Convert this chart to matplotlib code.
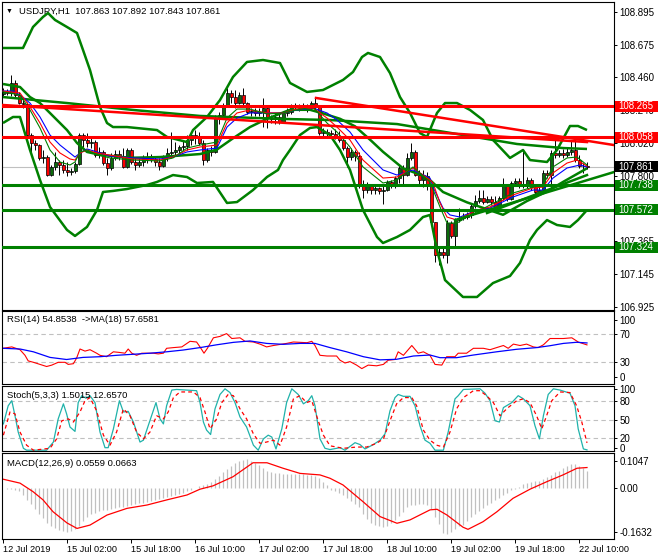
import matplotlib
matplotlib.use("Agg")
import matplotlib.pyplot as plt
import matplotlib.transforms as mtransforms
from matplotlib.patches import Rectangle

plt.rcParams['font.family'] = ['Liberation Sans', 'DejaVu Sans']

# ---------------- texts ----------------
chart_title = "USDJPY,H1  107.863 107.892 107.843 107.861"
rsi_title = "RSI(14) 54.8538  ->MA(18) 57.6581"
stoch_title = "Stoch(5,3,3) 1.5015 12.6570"
macd_title = "MACD(12,26,9) 0.0559 0.0663"

# ---------------- price data (H1 bars) ----------------
first_open = 108.345
closes = [108.359, 108.352, 108.419, 108.339, 108.285, 108.279, 108.072, 108.019, 108.005, 107.919,
          107.925, 107.805, 107.859, 107.892, 107.872, 107.839, 107.825, 107.832, 107.879, 108.072,
          108.039, 108.019, 108.025, 107.939, 107.959, 107.885, 107.852, 107.919, 107.945, 107.932,
          107.859, 107.972, 107.892, 107.872, 107.892, 107.919, 107.925, 107.912, 107.892, 107.865,
          107.925, 107.952, 107.959, 107.972, 107.992, 107.999, 108.039, 108.072, 108.059, 108.019,
          107.905, 107.972, 107.959, 108.185, 108.205, 108.272, 108.352, 108.325, 108.285, 108.339,
          108.285, 108.225, 108.232, 108.219, 108.225, 108.252, 108.185, 108.179, 108.192, 108.159,
          108.219, 108.225, 108.259, 108.265, 108.252, 108.259, 108.252, 108.285, 108.265, 108.085,
          108.092, 108.085, 108.079, 108.065, 108.039, 107.985, 107.925, 107.959, 107.932, 107.732,
          107.705, 107.739, 107.705, 107.719, 107.699, 107.705, 107.759, 107.739, 107.785, 107.852,
          107.805, 107.919, 107.959, 107.805, 107.772, 107.799, 107.732, 107.492, 107.272, 107.292,
          107.272, 107.485, 107.399, 107.505, 107.519, 107.525, 107.539, 107.599, 107.632, 107.652,
          107.625, 107.645, 107.625, 107.592, 107.652, 107.732, 107.645, 107.752, 107.765, 107.739,
          107.732, 107.772, 107.725, 107.692, 107.705, 107.819, 107.805, 107.952, 107.939, 107.952,
          107.939, 107.959, 107.972, 107.905, 107.865, 107.863, 107.861]
highs = [108.385, 108.379, 108.472, 108.439, 108.359, 108.305, 108.292, 108.085, 108.039, 108.012,
         107.972, 107.939, 107.872, 107.959, 107.905, 107.905, 107.892, 107.852, 107.892, 108.085,
         108.085, 108.085, 108.059, 108.039, 107.992, 107.972, 107.919, 107.952, 107.972, 107.972,
         107.985, 107.985, 107.985, 107.925, 107.919, 107.939, 107.959, 107.945, 107.932, 107.919,
         107.939, 107.985, 108.092, 108.025, 108.005, 108.039, 108.072, 108.085, 108.105, 108.092,
         108.039, 107.985, 107.999, 108.205, 108.225, 108.285, 108.385, 108.372, 108.372, 108.359,
         108.385, 108.292, 108.252, 108.252, 108.252, 108.319, 108.259, 108.205, 108.219, 108.212,
         108.232, 108.252, 108.279, 108.285, 108.279, 108.285, 108.279, 108.299, 108.319, 108.272,
         108.119, 108.112, 108.105, 108.112, 108.099, 108.065, 107.999, 107.985, 107.972, 107.959,
         107.772, 107.759, 107.745, 107.739, 107.725, 107.739, 107.772, 107.772, 107.799, 107.872,
         107.872, 107.952, 108.019, 107.972, 107.839, 107.839, 107.825, 107.739, 107.492, 107.319,
         107.319, 107.505, 107.499, 107.519, 107.585, 107.552, 107.559, 107.612, 107.672, 107.705,
         107.705, 107.665, 107.665, 107.665, 107.665, 107.785, 107.739, 107.765, 107.785, 107.785,
         107.972, 107.792, 107.785, 107.739, 107.732, 107.839, 107.839, 107.972, 108.072, 107.972,
         107.979, 107.985, 108.039, 108.052, 107.939, 107.885, 107.892]
lows = [108.332, 108.339, 108.332, 108.325, 108.279, 108.252, 108.059, 107.952, 107.972, 107.905,
        107.885, 107.799, 107.799, 107.839, 107.805, 107.819, 107.799, 107.805, 107.819, 107.872,
        107.992, 107.992, 107.985, 107.925, 107.919, 107.872, 107.805, 107.839, 107.905, 107.905,
        107.852, 107.852, 107.879, 107.839, 107.859, 107.865, 107.885, 107.892, 107.865, 107.839,
        107.859, 107.899, 107.919, 107.939, 107.939, 107.972, 107.972, 108.005, 108.012, 108.005,
        107.872, 107.892, 107.932, 107.952, 108.145, 108.192, 108.265, 108.285, 108.252, 108.279,
        108.272, 108.212, 108.199, 108.199, 108.199, 108.125, 108.119, 108.152, 108.145, 108.145,
        108.152, 108.199, 108.212, 108.239, 108.232, 108.239, 108.225, 108.239, 108.239, 108.072,
        108.065, 108.059, 108.059, 108.045, 108.025, 107.972, 107.859, 107.905, 107.899, 107.719,
        107.652, 107.685, 107.679, 107.679, 107.679, 107.612, 107.699, 107.719, 107.719, 107.752,
        107.739, 107.799, 107.905, 107.799, 107.739, 107.725, 107.705, 107.479, 107.225, 107.205,
        107.252, 107.219, 107.385, 107.325, 107.492, 107.505, 107.512, 107.519, 107.585, 107.619,
        107.612, 107.619, 107.605, 107.579, 107.579, 107.639, 107.632, 107.639, 107.732, 107.719,
        107.719, 107.719, 107.705, 107.679, 107.672, 107.705, 107.785, 107.719, 107.919, 107.925,
        107.919, 107.925, 107.939, 107.892, 107.852, 107.819, 107.843]

time_tick_bars = [0, 16, 32, 48, 64, 80, 96, 112, 128, 144]
time_tick_labels = ["12 Jul 2019", "15 Jul 02:00", "15 Jul 18:00", "16 Jul 10:00", "17 Jul 02:00",
                    "17 Jul 18:00", "18 Jul 10:00", "19 Jul 02:00", "19 Jul 18:00", "22 Jul 10:00"]
# 107.580 is entirely covered by the 107.572 level label in the reference, so it is not listed
price_ticks = [108.895, 108.675, 108.460, 108.240, 108.020, 107.800, 107.365, 107.145, 106.925]

# ---------------- drawn objects ----------------
resistance_levels = [108.265, 108.058]
support_levels = [107.738, 107.572, 107.324]
last_price = 107.861
red_trend1_bars = [0, 146]
red_trend1_prices = [108.272, 108.025]
red_trend2_bars = [78.25, 152.75]
red_trend2_prices = [108.319, 108.005]
green_trend1_bars = [113, 152.75]
green_trend1_prices = [107.505, 107.825]
green_trend2_bars = [121, 146]
green_trend2_prices = [107.552, 107.805]

# ---------------- indicators on price (vertices: bar index, price) ----------------
bb_up_bars = [0, 5, 7.5, 10, 11.25, 13, 16, 18.5, 20, 21.75, 24.25, 26, 27.5, 31, 38.5, 41, 46, 47.5, 51, 54.25,
              57.5, 61, 65, 69.25, 71.75, 76, 80, 85, 87.5, 89.75, 91.25, 94.25, 96.75, 99.25, 101.75, 104.25,
              106, 108.5, 110.5, 113.5, 116.75, 120, 122.5, 126.75, 130, 131.75, 136, 138.5, 141.75, 143.75, 146]
bb_up_vals = [108.652, 108.652, 108.792, 108.859, 108.885, 108.839, 108.792, 108.752, 108.639, 108.505,
              108.259, 108.152, 108.125, 108.125, 108.105, 108.059, 108.025, 108.105, 108.192, 108.305,
              108.459, 108.559, 108.572, 108.552, 108.419, 108.359, 108.372, 108.439, 108.492, 108.592,
              108.619, 108.592, 108.485, 108.325, 108.219, 108.085, 108.059, 108.219, 108.285, 108.285,
              108.239, 108.172, 108.039, 107.919, 107.972, 107.905, 107.892, 107.972, 108.132, 108.132, 108.105]
bb_mid_bars = [0, 4.25, 6.75, 9.25, 16, 18.5, 21, 24.25, 31.75, 39.25, 49.25, 53.5, 57.5, 61.75, 66, 71.75,
               76.75, 80, 84.25, 88, 92, 95, 100, 106, 110, 116, 125, 131, 136, 140, 146]
bb_mid_vals = [108.412, 108.392, 108.325, 108.285, 108.105, 108.019, 107.959, 107.94, 107.92, 107.925,
               107.945, 107.975, 108.05, 108.125, 108.18, 108.24, 108.24, 108.216, 108.18, 108.13, 108.035,
               107.96, 107.85, 107.79, 107.692, 107.623, 107.54, 107.632, 107.695, 107.759, 107.85]
bb_low_bars = [0, 2.5, 4.25, 6.75, 9.25, 11.75, 16, 18, 21, 23.5, 25, 27.5, 31, 36, 38.5, 42.5, 46, 48.5, 52.5,
               56, 58.5, 62.5, 66, 68.75, 70, 71.75, 74.25, 76.75, 78.5, 81.75, 84.25, 86.75, 90, 93.5, 95,
               98.5, 101.75, 105, 106.75, 108.5, 110.5, 115, 118.5, 122.5, 126.75, 129.25, 131.75, 133.5, 136,
               138.5, 141.75, 143.75, 146]
bb_low_vals = [108.152, 108.192, 108.192, 107.972, 107.772, 107.592, 107.439, 107.399, 107.459, 107.572,
               107.692, 107.699, 107.712, 107.739, 107.759, 107.805, 107.792, 107.752, 107.759, 107.619,
               107.625, 107.705, 107.792, 107.839, 107.905, 107.972, 108.072, 108.119, 108.125, 108.072,
               107.972, 107.839, 107.572, 107.392, 107.352, 107.392, 107.439, 107.525, 107.539, 107.305,
               107.105, 106.992, 106.992, 107.085, 107.132, 107.219, 107.372, 107.439, 107.505, 107.472,
               107.459, 107.505, 107.572]
long_ma_bars = [0, 16, 32.5, 49.25, 70, 81.75, 98.5, 115, 128.5, 140, 146]
long_ma_vals = [108.325, 108.285, 108.239, 108.199, 108.179, 108.172, 108.145, 108.072, 108.012, 107.985, 107.979]

ema_slow_bars = [0, 2.5, 4.25, 6.75, 9.25, 11.75, 14.25, 16.75, 18, 19.25, 21, 23.5, 26.75, 32.5, 39.25, 42.5,
                 46, 49.25, 53.5, 56, 58.5, 61.75, 66, 70, 73.5, 77.5, 81, 83.5, 86.75, 90, 95, 98.5, 102.5,
                 106.75, 107.5, 110, 111.75, 114.25, 118.5, 121.75, 127.5, 132.5, 135, 137.5, 141, 144.25, 146]
ema_slow_vals = [108.365, 108.365, 108.339, 108.285, 108.192, 108.072, 108.005, 107.952, 107.925, 107.952,
                 107.979, 107.959, 107.932, 107.919, 107.912, 107.925, 107.959, 107.972, 107.985, 108.125,
                 108.185, 108.219, 108.219, 108.219, 108.239, 108.252, 108.219, 108.172, 108.092, 107.972,
                 107.839, 107.805, 107.839, 107.785, 107.725, 107.585, 107.539, 107.525, 107.572, 107.585,
                 107.659, 107.705, 107.705, 107.785, 107.852, 107.872, 107.859]
ema_mid_bars = [0, 4.25, 6.75, 9.25, 11.75, 14.25, 16.75, 18, 19.25, 21, 23.5, 32.5, 39.25, 42.5, 46, 49.25,
                53.5, 56, 58.5, 61.75, 66, 70, 73.5, 77.5, 81, 83.5, 86.75, 90, 95, 98.5, 102.5, 106.75, 107.5,
                109.25, 111, 113.5, 118.5, 121.75, 127.5, 132.5, 135, 137.5, 141, 143.5, 146]
ema_mid_vals = [108.365, 108.352, 108.259, 108.152, 108.025, 107.952, 107.912, 107.905, 107.952, 107.972,
                107.952, 107.912, 107.905, 107.925, 107.972, 107.992, 108.005, 108.152, 108.219, 108.239,
                108.219, 108.219, 108.245, 108.252, 108.185, 108.125, 108.039, 107.905, 107.785, 107.792,
                107.852, 107.772, 107.752, 107.619, 107.525, 107.505, 107.572, 107.592, 107.672, 107.719,
                107.725, 107.819, 107.885, 107.905, 107.865]
ema_fast_bars = [0, 4.25, 6.75, 9.25, 11.75, 14.25, 16.75, 18, 19.25, 21, 23.5, 26.75, 32.5, 39.25, 42.5, 46,
                 49.25, 53.5, 56, 58.5, 61.75, 66, 70, 73.5, 77.5, 81, 83.5, 86.75, 90, 95, 98.5, 102.5, 106.75,
                 109.25, 111, 113.5, 116, 121.75, 127.5, 132.5, 135, 137.5, 141, 143.5, 146]
ema_fast_vals = [108.359, 108.339, 108.239, 108.119, 107.972, 107.892, 107.872, 107.892, 107.959, 107.972,
                 107.939, 107.919, 107.905, 107.899, 107.919, 107.985, 108.005, 108.025, 108.185, 108.245,
                 108.245, 108.212, 108.219, 108.239, 108.259, 108.152, 108.092, 107.992, 107.859, 107.752,
                 107.772, 107.859, 107.759, 107.592, 107.485, 107.485, 107.525, 107.605, 107.685, 107.725,
                 107.739, 107.859, 107.919, 107.925, 107.872]

# ---------------- RSI ----------------
rsi_bars = [0, 2.2, 4.25, 5.5, 6.3, 7.6, 9.25, 10.9, 12.2, 13.8, 15.5, 16.3, 17.6, 18.4, 19.25, 20.5, 21.75,
            23.4, 24.25, 25.9, 27.6, 29.25, 30.5, 31.3, 32.2, 33.4, 34.7, 37.6, 38.8, 40.1, 40.9, 42.6, 44.7,
            46.75, 48.4, 49.25, 50.25, 51.1, 52.6, 54.25, 55.9, 57.2, 59.25, 60.5, 62.6, 64.25, 65.9, 67.6,
            70.9, 72.6, 76, 77.2, 78, 79.25, 81, 83.4, 84.25, 85.5, 86.75, 88.4, 89.7, 91.3, 93.4, 95.1, 96.3,
            98, 98.8, 100.1, 102.2, 103.8, 105.1, 106.75, 108, 109.7, 110.9, 113, 113.8, 115.9, 117.6, 120.1,
            121.75, 123.4, 125.1, 126.3, 127.6, 129.25, 130.9, 132.6, 133.8, 135.1, 136.75, 140.1, 142.2,
            143.8, 146]
rsi_vals = [50, 52, 48, 40, 32, 30, 27, 24, 26, 30, 30, 27, 28, 36, 49, 46, 48, 43, 40, 38, 45, 44, 43, 49,
            43, 40, 43, 43, 42, 43, 50, 51, 52, 60, 59, 52, 43, 50, 65, 67, 71, 64, 65, 60, 59, 56, 52, 54, 57,
            59, 58, 60, 54, 40, 39, 39, 33, 29, 31, 26, 21, 26, 25, 27, 33, 34, 45, 40, 54, 43, 45, 40, 27, 26,
            38, 38, 43, 43, 50, 50, 48, 51, 54, 50, 56, 54, 56, 52, 51, 55, 64, 64, 65, 59, 54.85]
rsi_ma_bars = [0, 4.25, 7.6, 11.75, 15.9, 20, 24.25, 28.4, 32.6, 36.75, 40.9, 45, 49.25, 53.4, 57.6, 61.75,
               65.9, 70, 74.25, 78, 81.75, 85.9, 90.1, 94.25, 98.4, 102.6, 106.75, 109.25, 113.4, 117.6, 123.4,
               128.4, 133.4, 136.75, 140.1, 143.4, 146]
rsi_ma_vals = [50, 49, 45, 37, 34, 37, 38, 40, 41.5, 43, 45, 47.5, 51, 55, 58.5, 60.5, 57, 55.7, 57, 57, 51,
               45, 38, 33.5, 34.3, 39, 40.4, 36.6, 36.6, 40.4, 45, 48.6, 51, 53.7, 57, 58.6, 57.66]

# ---------------- Stochastic ----------------
stoch_k_bars = [0.1, 1.3, 2.2, 3, 3.8, 5.1, 5.9, 10.9, 12.6, 13.8, 15.1, 15.9, 16.75, 18, 18.8, 19.7, 20.75,
                21.75, 23, 24.25, 25.5, 26.3, 27.6, 29.1, 30.1, 31.3, 32.6, 34.25, 35.1, 36.3, 38.25, 39.25,
                40.1, 40.9, 42.2, 43.4, 48.4, 49.25, 50.1, 50.9, 51.9, 53, 54.25, 55.5, 56.75, 58, 59.25, 60.9,
                62.6, 63.8, 65.1, 66.3, 67.2, 68.25, 69.7, 70.9, 72.2, 73.8, 75.1, 76.3, 77.2, 78, 79.25, 80.5,
                81.75, 84.25, 85.5, 88, 89.25, 90.5, 92.6, 94.25, 95.5, 96.75, 98, 98.8, 100.1, 101.75, 103,
                104.25, 105.5, 106.75, 108, 110.1, 111.3, 113, 113.8, 115.1, 119.25, 120.5, 121.75, 123, 124.1,
                125.1, 127.2, 128.8, 130.1, 131.75, 133, 134.1, 135.1, 136.3, 137.6, 139.25, 141.75, 143, 143.8,
                145.1, 146]
stoch_k_vals = [43, 72, 80, 56, 30, 4, 1, 1, 14, 51, 75, 59, 38, 31, 77, 88, 84, 88, 77, 30, 5, 5, 35, 80, 62,
                63, 46, 14, 17, 40, 77, 51, 43, 72, 97, 98, 96, 77, 46, 33, 26, 67, 90, 99, 93, 77, 54, 38, 9, 1,
                19, 25, 22, 3, 35, 77, 99, 90, 75, 80, 88, 72, 19, 4, 2, 5, 1, 13, 10, 3, 10, 17, 27, 64, 85, 90,
                87, 87, 72, 40, 17, 12, 1, 1, 30, 83, 88, 98, 99, 92, 80, 48, 46, 69, 77, 88, 83, 72, 40, 19, 56,
                90, 99, 97, 92, 72, 35, 3, 1.5]
stoch_d_bars = [0.1, 1.75, 3, 4.25, 5.9, 7.6, 11.75, 13.4, 14.7, 16.3, 17.6, 19.25, 20.5, 21.75, 23.4, 25.1,
                26.75, 28.4, 30.1, 31.75, 33.4, 35.1, 36.75, 38.4, 40.1, 41.3, 42.6, 44.25, 47.6, 49.25, 50.5,
                51.75, 53.4, 54.7, 56.3, 57.6, 59.25, 60.9, 62.6, 64.25, 65.9, 67.6, 69.25, 70.9, 72.6, 74.25,
                75.9, 77.2, 78.8, 80.1, 81.75, 85.1, 88.4, 90.9, 93.4, 95.1, 96.75, 98.4, 100.1, 102.2, 103.4,
                105.1, 106.75, 108.4, 110.1, 111.75, 113.4, 115.1, 117.6, 119.25, 120.9, 122.6, 124.25, 125.9,
                128.4, 130.1, 131.75, 133.4, 134.7, 135.9, 137.2, 139.25, 141.75, 143.4, 144.7, 145.75, 146]
stoch_d_vals = [25, 62, 59, 30, 9, 1, 4, 19, 48, 51, 46, 62, 80, 85, 64, 25, 9, 30, 67, 56, 30, 19, 30, 56, 51,
                62, 85, 94, 94, 85, 62, 35, 51, 77, 90, 88, 67, 51, 27, 12, 14, 17, 9, 38, 83, 88, 77, 80, 48, 25,
                8, 4, 6, 6, 12, 19, 48, 75, 85, 85, 72, 33, 17, 9, 6, 30, 67, 85, 96, 96, 88, 77, 56, 67, 80, 83,
                77, 56, 35, 56, 80, 94, 93, 72, 46, 19, 12.66]

# ---------------- MACD ----------------
macd_main = [-0.002, -0.003, -0.005, -0.008, -0.012, -0.025, -0.04, -0.055, -0.07, -0.085,
             -0.1, -0.115, -0.125, -0.133, -0.138, -0.142, -0.145, -0.143, -0.135, -0.125,
             -0.11, -0.098, -0.088, -0.082, -0.078, -0.075, -0.072, -0.07, -0.067, -0.065,
             -0.062, -0.06, -0.057, -0.055, -0.052, -0.05, -0.047, -0.045, -0.042, -0.038,
             -0.035, -0.03, -0.027, -0.024, -0.02, -0.016, -0.012, -0.007, -0.002, 0.004,
             0.009, 0.013, 0.02, 0.03, 0.04, 0.05, 0.062, 0.072, 0.08, 0.088,
             0.092, 0.094, 0.088, 0.08, 0.073, 0.064, 0.056, 0.05, 0.048, 0.047,
             0.046, 0.046, 0.045, 0.045, 0.044, 0.044, 0.043, 0.042, 0.04, 0.032,
             0.02, 0.01, -0.006, -0.01, -0.016, -0.024, -0.033, -0.043, -0.053, -0.065,
             -0.088, -0.102, -0.115, -0.123, -0.127, -0.128, -0.125, -0.116, -0.105, -0.093,
             -0.079, -0.064, -0.058, -0.056, -0.054, -0.054, -0.056, -0.07, -0.095, -0.12,
             -0.148, -0.152, -0.145, -0.135, -0.127, -0.122, -0.11, -0.098, -0.088, -0.078,
             -0.068, -0.058, -0.049, -0.04, -0.033, -0.025, -0.016, -0.009, -0.004, 0.003,
             0.011, 0.015, 0.02, 0.022, 0.021, 0.027, 0.034, 0.043, 0.05, 0.056,
             0.065, 0.072, 0.077, 0.077, 0.071, 0.064, 0.0559]
macd_signal_bars = [0, 4.25, 7.5, 10, 12.5, 16, 18.5, 21.75, 26, 31, 36, 41, 46, 49.25, 52.5, 57.5, 62.5, 66,
                    70, 74.25, 79.25, 81.75, 85, 90, 94.25, 98.5, 101.75, 106.75, 108.5, 111, 115, 116.25, 120,
                    123.5, 127.5, 131.75, 136, 140, 143.5, 146]
macd_signal_vals = [0.028, 0.015, -0.013, -0.04, -0.079, -0.116, -0.134, -0.123, -0.09, -0.068, -0.057, -0.04,
                    -0.024, -0.005, 0.006, 0.036, 0.082, 0.082, 0.064, 0.047, 0.042, 0.031, 0.009, -0.046,
                    -0.095, -0.117, -0.106, -0.073, -0.071, -0.09, -0.13, -0.137, -0.112, -0.079, -0.035,
                    -0.005, 0.02, 0.042, 0.064, 0.0663]

# ---------------- styling ----------------
W, H = 660, 560
GREEN = '#008000'
RED = '#ff0000'
BLUE = '#0000ff'
SILVER = '#c0c0c0'
TEAL = '#20b2aa'
FS = 6.8

fig = plt.figure(figsize=(W / 100, H / 100), dpi=100)
fig.patch.set_facecolor('white')


def rect(x0, y0, x1, y1):
    return [x0 / W, 1 - y1 / H, (x1 - x0) / W, (y1 - y0) / H]


ax = fig.add_axes(rect(2, 2, 614, 310))
ax_rsi = fig.add_axes(rect(2, 311, 614, 384))
ax_sto = fig.add_axes(rect(2, 386, 614, 451))
ax_macd = fig.add_axes(rect(2, 453, 614, 539))

ax.set_ylim(106.9053, 108.9587)
ax_rsi.set_ylim(-1.0, 103.3)
ax_sto.set_ylim(-0.3, 103.5)
ax_macd.set_ylim(-0.1688, 0.1141)

for a in (ax, ax_rsi, ax_sto, ax_macd):
    a.set_xlim(-0.25, 152.75)
    a.set_facecolor('white')
    for s in a.spines.values():
        s.set_linewidth(0.8)
        s.set_color('black')
    a.yaxis.tick_right()
    a.tick_params(axis='y', direction='out', length=2.5, width=0.7, labelsize=7, pad=1.5, colors='black')
    a.tick_params(axis='x', bottom=False, labelbottom=False)


def ypix_to_data(a, ypix):
    return a.transData.inverted().transform((0, H - ypix))[1]


# ---------------- main chart ----------------
n = len(closes)
idx = list(range(n))
opens = [first_open] + closes[:-1]
body_bottom = [min(o, c) for o, c in zip(opens, closes)]
body_height = [max(abs(c - o), 0.0012) for o, c in zip(opens, closes)]
body_color = ['#0b6b0b' if c > o else (RED if c < o else 'black') for o, c in zip(opens, closes)]

ax.axhline(last_price, color=SILVER, lw=0.8, zorder=1.5)
ax.vlines(idx, lows, highs, color='black', lw=0.7, zorder=2)
ax.bar(idx, body_height, bottom=body_bottom, width=0.75, color=body_color,
       edgecolor='black', linewidth=0.5, zorder=2.1)

for bx, bv in ((bb_up_bars, bb_up_vals), (bb_mid_bars, bb_mid_vals), (bb_low_bars, bb_low_vals),
               (long_ma_bars, long_ma_vals)):
    ax.plot(bx, bv, color=GREEN, lw=1.8, zorder=3, solid_capstyle='butt')
ax.plot(ema_slow_bars, ema_slow_vals, color=BLUE, lw=0.8, zorder=3.2)
ax.plot(ema_mid_bars, ema_mid_vals, color=RED, lw=0.8, zorder=3.3)
ax.plot(ema_fast_bars, ema_fast_vals, color=GREEN, lw=0.8, zorder=3.4)

for lv in resistance_levels:
    ax.axhline(lv, color=RED, lw=2.2, zorder=4)
for lv in support_levels:
    ax.axhline(lv, color=GREEN, lw=2.2, zorder=4)
ax.plot(red_trend1_bars, red_trend1_prices, color=RED, lw=1.8, zorder=4)
ax.plot(red_trend2_bars, red_trend2_prices, color=RED, lw=1.8, zorder=4)
ax.plot(green_trend1_bars, green_trend1_prices, color=GREEN, lw=1.8, zorder=4)
ax.plot(green_trend2_bars, green_trend2_prices, color=GREEN, lw=1.8, zorder=4)

ax.set_yticks(price_ticks)
ax.set_yticklabels([f"{p:.3f}" for p in price_ticks])

trans_lbl = mtransforms.blended_transform_factory(fig.transFigure, ax.transData)
half_h = 5.5 / 150.0


def price_box(value, color):
    fig.add_artist(Rectangle((615 / W, value - half_h), 43 / W, 2 * half_h, transform=trans_lbl,
                             facecolor=color, edgecolor='none', zorder=5))
    fig.text(618 / W, value, f"{value:.3f}", transform=trans_lbl, color='white', fontsize=7,
             va='center', ha='left', zorder=6)


for lv in resistance_levels:
    price_box(lv, RED)
for lv in support_levels:
    price_box(lv, GREEN)
price_box(last_price, 'black')

fig.text(6 / W, 1 - 11 / H, '\u25bc', fontsize=5, va='center', ha='left', color='black')
fig.text(19 / W, 1 - 11 / H, chart_title, fontsize=FS, va='center', ha='left', color='black')

# ---------------- RSI ----------------
ax_rsi.axhline(70, color=SILVER, lw=0.8, ls=(0, (4, 3)))
ax_rsi.axhline(30, color=SILVER, lw=0.8, ls=(0, (4, 3)))
ax_rsi.plot(rsi_bars, rsi_vals, color=RED, lw=0.8)
ax_rsi.plot(rsi_ma_bars, rsi_ma_vals, color=BLUE, lw=0.9)
ax_rsi.set_yticks([ypix_to_data(ax_rsi, 320), 70, 30, ypix_to_data(ax_rsi, 377)])
ax_rsi.set_yticklabels(['100', '70', '30', '0'])
fig.text(7 / W, 1 - 320 / H, rsi_title, fontsize=FS, va='center', ha='left')

# ---------------- Stochastic ----------------
for lv in (80, 50, 20, 0.3):
    ax_sto.axhline(lv, color=SILVER, lw=0.8, ls=(0, (4, 3)))
ax_sto.plot(stoch_k_bars, stoch_k_vals, color=TEAL, lw=0.9)
ax_sto.plot(stoch_d_bars, stoch_d_vals, color=RED, lw=0.9, ls=(0, (3, 2.5)))
ax_sto.set_yticks([ypix_to_data(ax_sto, 389), 80, 50, 20, ypix_to_data(ax_sto, 447.5)])
ax_sto.set_yticklabels(['100', '80', '50', '20', '0'])
fig.text(7 / W, 1 - 395 / H, stoch_title, fontsize=FS, va='center', ha='left')

# ---------------- MACD ----------------
ax_macd.vlines(idx, 0, macd_main, color=SILVER, lw=0.9)
ax_macd.plot(macd_signal_bars, macd_signal_vals, color=RED, lw=0.9)
ax_macd.set_yticks([ypix_to_data(ax_macd, 461), 0.0, ypix_to_data(ax_macd, 532)])
ax_macd.set_yticklabels(['0.1047', '0.00', '-0.1632'])
fig.text(7 / W, 1 - 463 / H, macd_title, fontsize=FS, va='center', ha='left')

ax_macd.set_xticks(time_tick_bars)
ax_macd.set_xticklabels(time_tick_labels, ha='left')
ax_macd.tick_params(axis='x', bottom=True, labelbottom=True, direction='out', length=3, width=0.7,
                    labelsize=6.6, pad=1.5, colors='black')

fig.savefig('out.png', dpi=100, facecolor='white')
